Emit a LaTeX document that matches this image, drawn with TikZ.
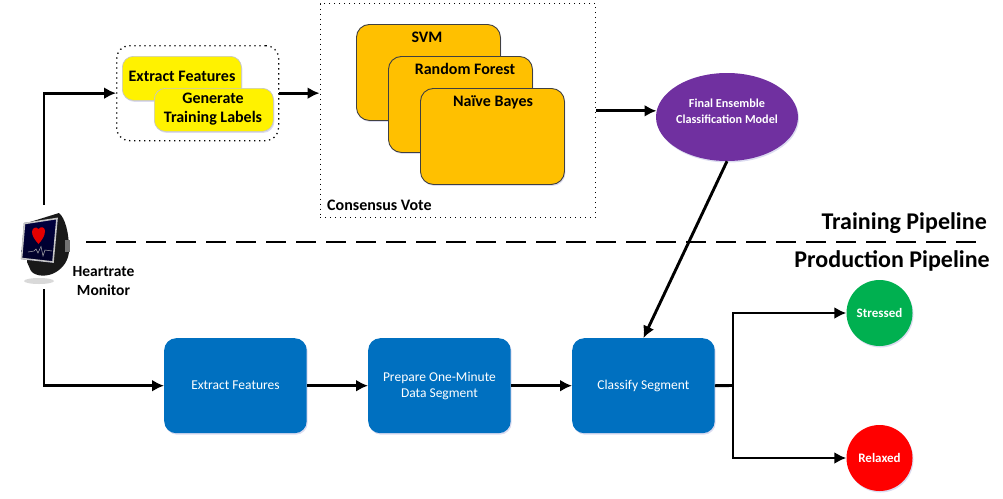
\documentclass[tikz,border=0pt]{standalone}
\usepackage{fontspec}
\setmainfont{Carlito}
\usetikzlibrary{arrows.meta,shadows,shapes.geometric}
\definecolor{amber}{RGB}{255,192,0}
\definecolor{blueb}{RGB}{0,112,192}
\definecolor{purp}{RGB}{112,48,160}
\definecolor{grn}{RGB}{0,176,80}
\tikzset{
  x=1pt,y=-1pt,
  flow/.style={draw=black,line width=2.9pt,-{Latex[length=12pt,width=12pt]}},
  plain/.style={draw=black,line width=2.9pt},
  softshadow/.style={drop shadow={opacity=.2,shadow xshift=1pt,shadow yshift=-1.5pt,fill=blue!40!gray}},
  box/.style={rectangle,inner sep=0pt,anchor=north west,align=center},
  yellowbox/.style={box,draw=gray!45,line width=.7pt,fill=yellow,rounded corners=11pt,softshadow},
  amberbox/.style={box,draw=black!75,line width=.9pt,fill=amber,rounded corners=13pt,minimum width=144pt,minimum height=96pt,softshadow},
  bluebox/.style={box,fill=blueb,rounded corners=12pt,minimum width=142.5pt,minimum height=95pt,text=white,font=\fontsize{13.5}{16}\selectfont,softshadow},
  dotbox/.style={box,draw=black,line width=1.3pt,dash pattern=on 1.3pt off 3.7pt},
  btext/.style={anchor=center,inner sep=0pt,align=center,font=\fontsize{16}{19.5}\bfseries\selectfont},
  circ/.style={circle,minimum size=66pt,inner sep=0pt,text=white,font=\fontsize{13}{15}\bfseries\selectfont,softshadow},
  ptitle/.style={anchor=east,inner sep=0pt,font=\fontsize{24}{28}\bfseries\selectfont},
}
\begin{document}
\begin{tikzpicture}
\useasboundingbox (0,0) rectangle (1003,498);
% containers
\node[dotbox,rounded corners=13pt,minimum width=162pt,minimum height=95pt] (inputs) at (116,45) {};
\node[dotbox,minimum width=275.5pt,minimum height=214pt] (vote) at (319.5,3) {};
% yellow boxes
\node[yellowbox,minimum width=119pt,minimum height=44pt] (fe) at (122,56) {};
\node[btext] (fet) at (182,76) {Extract Features};
\node[yellowbox,minimum width=119pt,minimum height=43pt] (gl) at (154,88) {};
\node[btext] (glt) at (213,109) {Generate\\Training Labels};
% amber boxes
\node[amberbox] (svm) at (356,24) {};
\node[btext] (svmt) at (427,37) {SVM};
\node[amberbox] (rf) at (388,56) {};
\node[btext] (rft) at (465,69) {Random Forest};
\node[amberbox] (nb) at (420,88) {};
\node[btext] (nbt) at (493,102) {Naïve Bayes};
\node[anchor=west,inner sep=0pt,font=\fontsize{16}{19}\bfseries\selectfont] (cv) at (327,205) {Consensus Vote};
% heartrate monitor
\node[inner sep=0pt,minimum width=60pt,minimum height=84pt] (watch) at (44,247) {};
\fill[black!15] (39,281) ellipse (15pt and 3pt);
\fill[black!90] (30,222) -- (59,213) .. controls (65,218) and (69,232) .. (69,250) .. controls (69,260) and (63,268) .. (56,272) .. controls (48,277) and (36,277) .. (31,271) -- (27,262) -- cycle;
\fill[black!55] (65,240) rectangle (70,252);
\shade[top color=black!75!blue,bottom color=black!85!blue] (24,223) -- (58,218) -- (53,263) -- (21,259) -- cycle;
\draw[gray!45,line width=1.6pt] (24.5,223.5) -- (57,218.5) -- (53,262) -- (21.5,258.5) -- cycle;
\fill[red!90!black] (38.5,244) .. controls (35,240) and (32,236) .. (32,232) .. controls (32,228) and (36,226) .. (38.5,229) .. controls (41,226) and (45,227) .. (45,231) .. controls (45,236) and (42,240) .. (38.5,244) -- cycle;
\draw[gray!65,line width=.5pt] (28,252) -- (34,251) -- (36,249) -- (38,253) -- (41,246.5) -- (43,256) -- (45,250) -- (52,251);
\node[btext,font=\fontsize{15.5}{19}\bfseries\selectfont] (hm) at (103.5,281) {Heartrate\\Monitor};
% model
\node[ellipse,fill=purp,minimum width=142pt,minimum height=88pt,inner sep=0pt,softshadow] (model) at (727,117) {};
\node[inner sep=0pt,text=white,align=center,font=\fontsize{12.2}{16}\bfseries\selectfont] (modelt) at (727,111) {Final Ensemble\\Classification Model};
% production
\node[bluebox] (pfe) at (164,338) {Extract Features};
\node[bluebox] (seg) at (368,338) {Prepare One-Minute\\Data Segment};
\node[bluebox] (cls) at (572,338) {Classify Segment};
\node[circ,fill=grn] (st) at (879.5,313) {Stressed};
\node[circ,fill=red] (rx) at (879.5,458) {Relaxed};
% divider
\coordinate (dl) at (86,242);
\coordinate (dr) at (982,242);
\draw[black,line width=2.6pt,dash pattern=on 20pt off 10pt] (dl) -- (dr);
\node[ptitle] (tp) at (987,223) {Training Pipeline};
\node[ptitle] (pp) at (990,261) {Production Pipeline};
% connectors
\draw[flow] (watch.north) |- (inputs.west);
\draw[flow] (inputs.east) -- (inputs.east -| vote.west);
\draw[flow] (vote.east |- model.175) -- (model.175);
\draw[flow] (model.south) -- (cls.north);
\draw[flow] (watch.south) |- (pfe.west);
\draw[flow] (pfe.east) -- (seg.west);
\draw[flow] (seg.east) -- (cls.west);
\coordinate (split) at (733,385.5);
\draw[plain] (cls.east) -- (split);
\draw[flow] (split) |- (st.west);
\draw[flow] (split) |- (rx.west);
\end{tikzpicture}
\end{document}
